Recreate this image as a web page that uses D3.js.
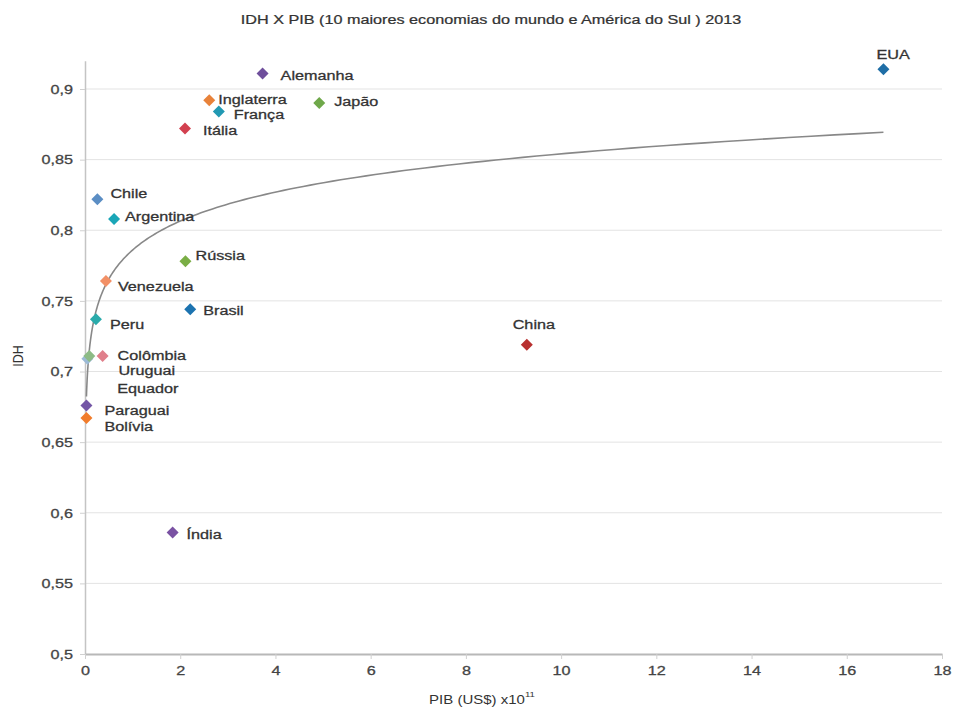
<!DOCTYPE html>
<html>
<head>
<meta charset="utf-8">
<script src="https://cdn.jsdelivr.net/npm/d3@7/dist/d3.min.js"></script>
<style>
  html, body { margin: 0; padding: 0; background: #fff; }
  svg { display: block; font-family: "Liberation Sans", Arial, sans-serif; }
</style>
</head>
<body>
<svg id="chart" width="957" height="711"></svg>
<script>
// IDH x PIB, 2013 — ten largest economies plus South America
const countries = ["EUA", "Alemanha", "Inglaterra", "Japão", "França", "Itália",
  "Chile", "Argentina", "Rússia", "Venezuela", "Brasil", "Peru", "China",
  "Colômbia", "Uruguai", "Equador", "Paraguai", "Bolívia", "Índia"];
const pib = [16.77, 3.73, 2.61, 4.92, 2.81, 2.1,
  0.26, 0.61, 2.11, 0.44, 2.21, 0.23, 9.28,
  0.37, 0.05, 0.09, 0.03, 0.03, 1.84];
const idh = [0.914, 0.911, 0.892, 0.890, 0.884, 0.872,
  0.822, 0.808, 0.778, 0.764, 0.744, 0.737, 0.719,
  0.711, 0.709, 0.711, 0.676, 0.667, 0.586];

const xTicks = [0, 2, 4, 6, 8, 10, 12, 14, 16, 18];
const yTicks = [0.5, 0.55, 0.6, 0.65, 0.7, 0.75, 0.8, 0.85, 0.9];
const yTickLabels = ["0,5", "0,55", "0,6", "0,65", "0,7", "0,75", "0,8", "0,85", "0,9"];

const titleText = "IDH X PIB (10 maiores economias do mundo e América do Sul ) 2013";
const xTitle = "PIB (US$) x10";
const xTitleSup = "11";
const yTitle = "IDH";

// marker colours, one per country
const markerColors = ["#1f6ea6", "#6f4f9c", "#e8823a", "#6fa84a", "#2199b3", "#d2404f",
  "#5b8ec4", "#1aa6b7", "#7aae45", "#f29066", "#1c73b0", "#2aabab", "#b8302f",
  "#e07f8b", "#9cbad6", "#8dbb86", "#7456a6", "#f17c2b", "#7a52a3"];

// label placement relative to each marker: [dx, dy, anchor]
const labelPlacement = [[-7, -15, "start"], [18, 2, "start"], [9, -1, "start"], [15, -2, "start"],
  [15, 3, "start"], [18, 2, "start"], [13, -6, "start"], [11, -2, "start"], [10, -6, "start"],
  [12, 5, "start"], [13, 1, "start"], [14, 5, "start"], [7, -20, "middle"],
  [15, 0, "start"], [31, 12, "start"], [28, 33, "start"], [18, 5, "start"], [18, 8, "start"],
  [14, 2, "start"]];

const stretch = 1.2; // horizontal text stretch
const textInk = "#333";

const svg = d3.select("#chart");
const x = d3.scaleLinear().domain([0, 18]).range([85, 942]);
const y = d3.scaleLinear().domain([0.5, 0.92]).range([654, 60.75]);

// horizontal gridlines
svg.append("g").selectAll("line")
  .data(yTicks.filter(v => v > 0.5))
  .join("line")
  .attr("x1", x(0)).attr("x2", x(18))
  .attr("y1", d => y(d)).attr("y2", d => y(d))
  .attr("stroke", "#e3e3e3").attr("stroke-width", 1);

// y axis
const yAxis = svg.append("g")
  .attr("transform", `translate(${x(0)},0)`)
  .call(d3.axisLeft(y).tickValues(yTicks)
    .tickFormat((d, i) => yTickLabels[i]).tickSize(5).tickSizeOuter(0));
yAxis.select(".domain").attr("stroke", "#c4c4c4").attr("stroke-width", 1.5);
yAxis.selectAll(".tick line").attr("stroke", "#d0d0d0");
yAxis.selectAll(".tick text")
  .attr("fill", "#444").attr("stroke", "#444").attr("stroke-width", 0.3)
  .attr("font-size", 13.5)
  .attr("x", -10).attr("transform", `scale(${stretch},1)`);

// x axis
const xAxis = svg.append("g")
  .attr("transform", `translate(0,${y(0.5)})`)
  .call(d3.axisBottom(x).tickValues(xTicks).tickFormat(d3.format("d"))
    .tickSize(5).tickSizeOuter(0));
xAxis.select(".domain").attr("stroke", "#b8b8b8").attr("stroke-width", 2);
xAxis.selectAll(".tick line").attr("stroke", "#d0d0d0");
xAxis.selectAll(".tick text")
  .attr("fill", "#444").attr("stroke", "#444").attr("stroke-width", 0.3)
  .attr("font-size", 13.5)
  .attr("y", 11).attr("transform", `scale(${stretch},1)`);

// logarithmic trend line fitted by least squares on ln(PIB)
const lx = pib.map(Math.log);
const mx = d3.mean(lx), my = d3.mean(idh);
const slope = d3.sum(lx, (v, i) => (v - mx) * (idh[i] - my)) / d3.sum(lx, v => (v - mx) ** 2);
const intercept = my - slope * mx;
const lo = d3.min(pib), hi = d3.max(pib);
const curvePts = d3.range(0, 201).map(k => {
  const p = Math.exp(Math.log(lo) + (Math.log(hi) - Math.log(lo)) * k / 200);
  return [p, intercept + slope * Math.log(p)];
});
svg.append("path")
  .datum(curvePts)
  .attr("d", d3.line().x(d => x(d[0])).y(d => y(d[1])))
  .attr("fill", "none").attr("stroke", "#888").attr("stroke-width", 1.6);

// diamond markers
const pts = countries.map((c, i) => ({ c, px: x(pib[i]), py: y(idh[i]), i }));
svg.append("g").selectAll("path")
  .data(pts)
  .join("path")
  .attr("d", d3.symbol(d3.symbolSquare, 72))
  .attr("transform", d => `translate(${d.px},${d.py}) rotate(45)`)
  .attr("fill", d => markerColors[d.i]);

// country labels
svg.append("g").selectAll("text")
  .data(pts)
  .join("text")
  .attr("transform", d => `translate(${d.px + labelPlacement[d.i][0]},${d.py + labelPlacement[d.i][1]}) scale(${stretch},1)`)
  .attr("text-anchor", d => labelPlacement[d.i][2])
  .attr("dominant-baseline", "central")
  .attr("font-size", 13.5)
  .attr("fill", textInk).attr("stroke", textInk).attr("stroke-width", 0.3)
  .text(d => d.c);

// title
svg.append("text")
  .attr("transform", `translate(491,19) scale(${stretch},1)`)
  .attr("text-anchor", "middle").attr("dominant-baseline", "central")
  .attr("font-size", 13.5).attr("fill", textInk).attr("stroke", textInk).attr("stroke-width", 0.25)
  .text(titleText);

// axis titles
const xt = svg.append("text")
  .attr("transform", `translate(482,699) scale(${stretch},1)`)
  .attr("text-anchor", "middle").attr("dominant-baseline", "central")
  .attr("font-size", 12.5).attr("fill", textInk);
xt.append("tspan").text(xTitle);
xt.append("tspan").attr("font-size", 8).attr("dy", -5).text(xTitleSup);

svg.append("text")
  .attr("transform", `translate(18,356) scale(${stretch},1) rotate(-90)`)
  .attr("text-anchor", "middle").attr("dominant-baseline", "central")
  .attr("font-size", 12.5).attr("fill", textInk)
  .text(yTitle);
</script>
</body>
</html>
